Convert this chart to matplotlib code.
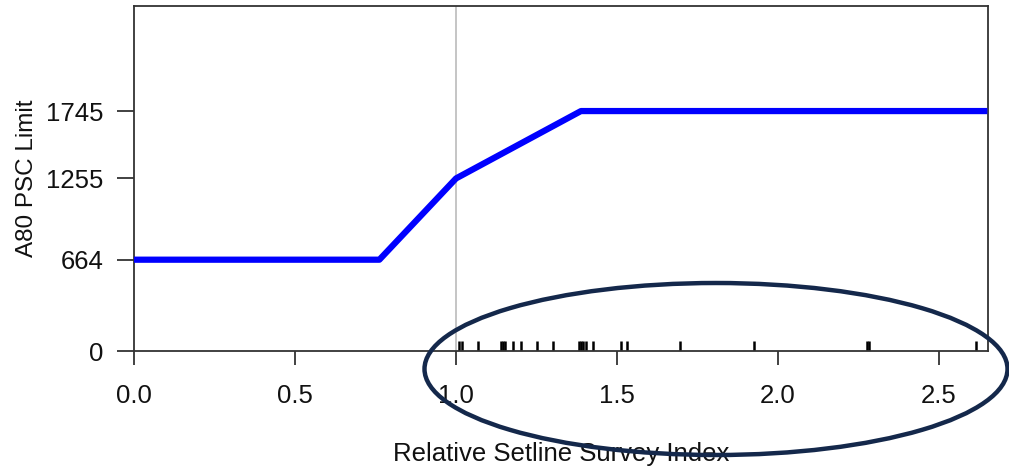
import matplotlib.pyplot as plt
from matplotlib.patches import Ellipse

plt.rcParams['font.family'] = ['Liberation Sans', 'DejaVu Sans']

# control rule: relative survey index vs PSC limit
rule_x = [0.0, 0.762, 1.0, 1.388, 2.65]
rule_y = [664, 664, 1255, 1745, 1745]

# observed survey index values (rug)
rug_x = [1.009, 1.019, 1.067, 1.140, 1.146, 1.152, 1.177, 1.202, 1.252, 1.302,
         1.382, 1.388, 1.394, 1.403, 1.425, 1.512, 1.531, 1.696, 1.925,
         2.277, 2.283, 2.615]

yticks = [0, 664, 1255, 1745]
xticks = [0.0, 0.5, 1.0, 1.5, 2.0, 2.5]

fig = plt.figure(figsize=(10.09, 4.69), dpi=100)
ax = fig.add_axes([134/1009, 1-351/469, (988-134)/1009, (351-6)/469])

ax.axvline(1.0, color='#bbbbbb', lw=1.2, zorder=1)
ax.plot(rule_x, rule_y, color='#0000ff', lw=4.5, solid_capstyle='butt', zorder=3)
ax.vlines(rug_x, 0, 75, color='black', lw=1.8, zorder=2)

ax.set_xlim(0, 2.652)
ax.set_ylim(0, 2509)
ax.set_xticks(xticks)
ax.set_xticklabels(['%.1f' % v for v in xticks])
ax.set_yticks(yticks)
ax.set_yticklabels([str(v) for v in yticks])
ax.tick_params(axis='both', labelsize=18.5, color='#333333', width=1.3, labelcolor='#111111')
ax.tick_params(axis='x', length=10, pad=14)
ax.tick_params(axis='y', length=12, pad=10)
for s in ax.spines.values():
    s.set_color('#333333')
    s.set_linewidth(1.3)

ax.set_xlabel('Relative Setline Survey Index', fontsize=18.5, color='#111111', labelpad=24)
ax.set_ylabel('A80 PSC Limit', fontsize=17.5, color='#111111', labelpad=6)

# highlight ellipse drawn in figure pixels
ell = Ellipse((716/1009, 1-369/469), 583/1009, 172/469, transform=fig.transFigure,
              fill=False, edgecolor='#14284b', lw=3.2, clip_on=False, zorder=10)
fig.add_artist(ell)

fig.savefig('out.png', dpi=100)
